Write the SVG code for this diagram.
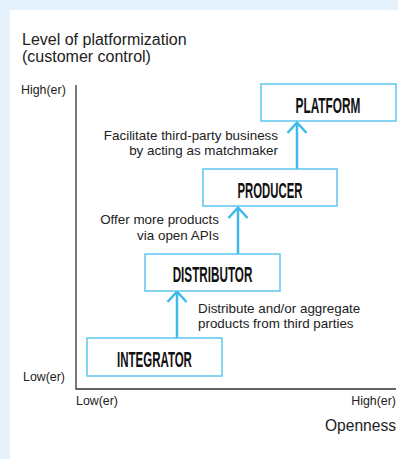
<svg xmlns="http://www.w3.org/2000/svg" width="398" height="459" viewBox="0 0 398 459">
<style>
.lbl{font-family:"Liberation Sans",Arial,sans-serif;fill:#222}
.note{font-size:13.4px}
.tick{font-size:12.4px}
.box{fill:#fff;stroke:#5cc6ee;stroke-width:1.5}
.bt{font-family:"Liberation Sans",Arial,sans-serif;font-weight:bold;font-size:22.5px;fill:#111;text-anchor:middle}
.ar{stroke:#3db9ea;stroke-width:2.5;fill:none}
.ax{stroke:#333;stroke-width:1.3;fill:none}
</style>
<rect width="398" height="459" fill="#e6f2fb"/>
<rect x="10" y="10" width="388" height="449" fill="#fff"/>
<g id="axes">
<path class="ax" d="M76,85 V389 H396"/>
<text class="lbl" x="22" y="45" font-size="16">Level of platformization</text>
<text class="lbl" x="22" y="62" font-size="16">(customer control)</text>
<text class="lbl tick" x="21" y="94">High(er)</text>
<text class="lbl tick" x="23" y="381">Low(er)</text>
<text class="lbl tick" x="76" y="405">Low(er)</text>
<text class="lbl tick" x="396" y="405" text-anchor="end">High(er)</text>
<text class="lbl" x="396" y="431" font-size="15.6" text-anchor="end">Openness</text>
</g>
<g id="connectors">
<g class="ar">
<path d="M297,169 V123"/><path d="M287.5,133 L297,122.5 L306.5,133"/>
<path d="M238,254 V208"/><path d="M228.5,218 L238,207.5 L247.5,218"/>
<path d="M177,338 V293"/><path d="M167.5,302 L177,291.5 L186.5,302"/>
</g>
<text class="lbl note" x="278" y="139.5" text-anchor="end">Facilitate third-party business</text>
<text class="lbl note" x="278" y="154.5" text-anchor="end">by acting as matchmaker</text>
<text class="lbl note" x="219" y="224" text-anchor="end">Offer more products</text>
<text class="lbl note" x="219" y="240" text-anchor="end">via open APIs</text>
<text class="lbl note" x="198" y="312.5">Distribute and/or aggregate</text>
<text class="lbl note" x="198" y="327.5">products from third parties</text>
</g>
<g id="platform">
<rect class="box" x="261" y="84" width="135" height="37"/>
<text class="bt" transform="translate(328,113.3) scale(0.55,1)" textLength="118" lengthAdjust="spacingAndGlyphs">PLATFORM</text>
</g>
<g id="producer">
<rect class="box" x="203" y="169" width="134" height="37"/>
<text class="bt" transform="translate(270,198.3) scale(0.55,1)" textLength="118" lengthAdjust="spacingAndGlyphs">PRODUCER</text>
</g>
<g id="distributor">
<rect class="box" x="145" y="254" width="135" height="37"/>
<text class="bt" transform="translate(212.5,282.3) scale(0.55,1)" textLength="145" lengthAdjust="spacingAndGlyphs">DISTRIBUTOR</text>
</g>
<g id="integrator">
<rect class="box" x="87" y="338" width="135" height="38"/>
<text class="bt" transform="translate(154.5,366.5) scale(0.55,1)" textLength="136" lengthAdjust="spacingAndGlyphs">INTEGRATOR</text>
</g>
</svg>
